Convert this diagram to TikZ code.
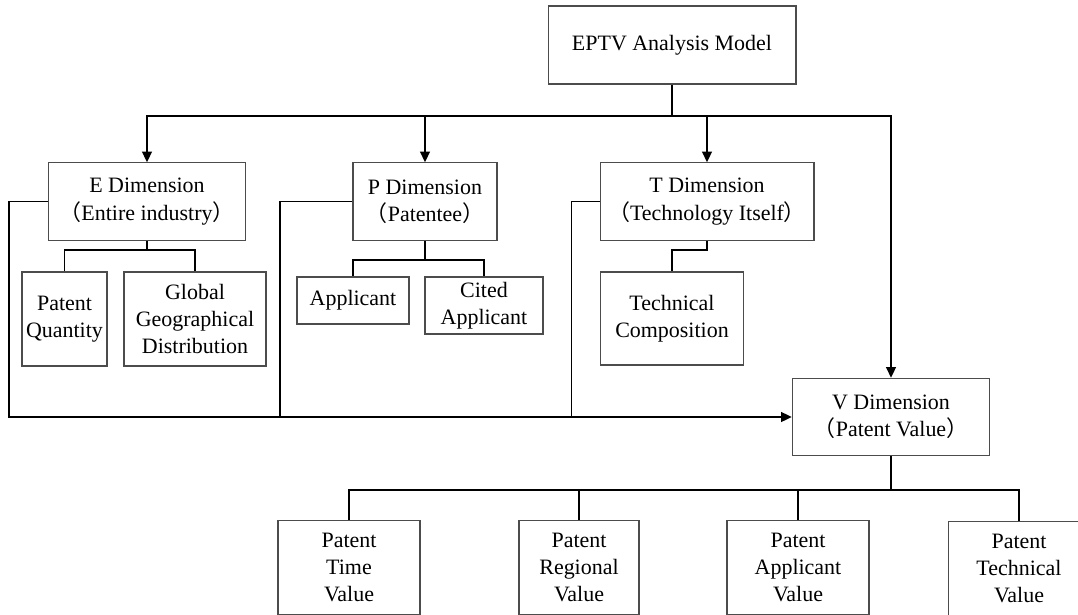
\documentclass[tikz,border=0pt]{standalone}
\usepackage{fontspec}
\setmainfont{Liberation Serif}
\newfontfamily\cjk{Noto Sans CJK SC}
\usetikzlibrary{arrows.meta}
\newcommand{\lpar}{{\cjk （}}
\newcommand{\rpar}{{\cjk ）}}

\begin{document}
\begin{tikzpicture}[x=0.02cm, y=-0.02cm,
    box/.style={draw=black!70, line width=0.6pt, align=center, inner sep=1pt,
                font=\fontsize{12.5}{15.5}\selectfont},
    dimbox/.style={box, minimum height=1.55cm},
    leafbox/.style={box, minimum width=2.84cm, minimum height=1.87cm},
    link/.style={line width=1.1pt, black},
    arrowlink/.style={link, -{Triangle[length=6pt, width=5.5pt]}}]

    % 1. VARIABLES
    \def\busY{116}   % height of the main bus
    \def\feedY{417}  % height of the line into V
    \def\vbusY{490}  % height of the V bus

    \clip (0,0) rectangle (1078,615);

    % ==========================================
    % 2. TOP AND DIMENSIONS
    % ==========================================
    \node[box, minimum width=4.96cm, minimum height=1.56cm] (model) at (672,45) {EPTV Analysis Model};
    \node[dimbox, minimum width=3.95cm] (edim) at (147,201.5) {E Dimension\\\lpar Entire industry\rpar};
    \node[dimbox, minimum width=2.88cm] (pdim) at (425,201.5) {P Dimension\\\lpar Patentee\rpar};
    \node[dimbox, minimum width=4.28cm] (tdim) at (707,201.5) {T Dimension\\\lpar Technology Itself\rpar};
    \node[dimbox, minimum width=3.95cm] (vdim) at (891,417) {V Dimension\\\lpar Patent Value\rpar};

    % ==========================================
    % 3. SUB-ITEMS
    % ==========================================
    \node[box, minimum width=1.7cm, minimum height=1.88cm] (quantity) at (64.5,319) {Patent\\Quantity};
    \node[box, minimum width=2.84cm, minimum height=1.88cm] (global) at (195,319) {Global\\Geographical\\Distribution};
    \node[box, minimum width=2.24cm, minimum height=0.94cm] (applicant) at (353,300.5) {Applicant};
    \node[box, minimum width=2.36cm, minimum height=1.14cm] (cited) at (484,305.5) {Cited\\Applicant};
    \node[box, minimum width=2.85cm, minimum height=1.86cm] (composition) at (672,318.5) {Technical\\Composition};

    \node[leafbox] (timeval) at (349,567.5) {Patent\\Time\\Value};
    \node[leafbox, minimum width=2.4cm] (regval) at (579,567.5) {Patent\\Regional\\Value};
    \node[leafbox] (appval) at (798,567.5) {Patent\\Applicant\\Value};
    \node[leafbox] (techval) at (1019,568.5) {Patent\\Technical\\Value};

    % ==========================================
    % 4. CONNECTORS
    % ==========================================
    \coordinate (bus) at (672,\busY);
    \draw[link] (model.south) -- (bus);
    \draw[arrowlink] (bus) -| (edim.north);
    \draw[arrowlink] (bus) -| (pdim.north);
    \draw[arrowlink] (bus) -| (tdim.north);
    \draw[arrowlink] (bus) -| (vdim.north);

    % lines from each dimension into V
    \coordinate (eturn) at (9,201.5);
    \coordinate (pturn) at (280,201.5);
    \coordinate (tturn) at (571.5,201.5);
    \draw[arrowlink] (edim.west) -- (eturn) |- (vdim.west);
    \draw[link] (pdim.west) -- (pturn) -- (pturn |- vdim.west);
    \draw[link] (tdim.west) -- (tturn) -- (tturn |- vdim.west);

    % E, P and T brackets
    \coordinate (ebus) at (147,250);
    \draw[link] (edim.south) -- (ebus);
    \draw[link] (ebus) -| (quantity.north);
    \draw[link] (ebus) -| (global.north);

    \coordinate (pbus) at (425,260);
    \draw[link] (pdim.south) -- (pbus);
    \draw[link] (pbus) -| (applicant.north);
    \draw[link] (pbus) -| (cited.north);

    \coordinate (tbus) at (707,250);
    \draw[link] (tdim.south) -- (tbus) -| (composition.north);

    % V bracket
    \coordinate (vbus) at (891,\vbusY);
    \draw[link] (vdim.south) -- (vbus);
    \foreach \leaf in {timeval, regval, appval, techval}
        \draw[link] (vbus) -| (\leaf.north);

\end{tikzpicture}
\end{document}
